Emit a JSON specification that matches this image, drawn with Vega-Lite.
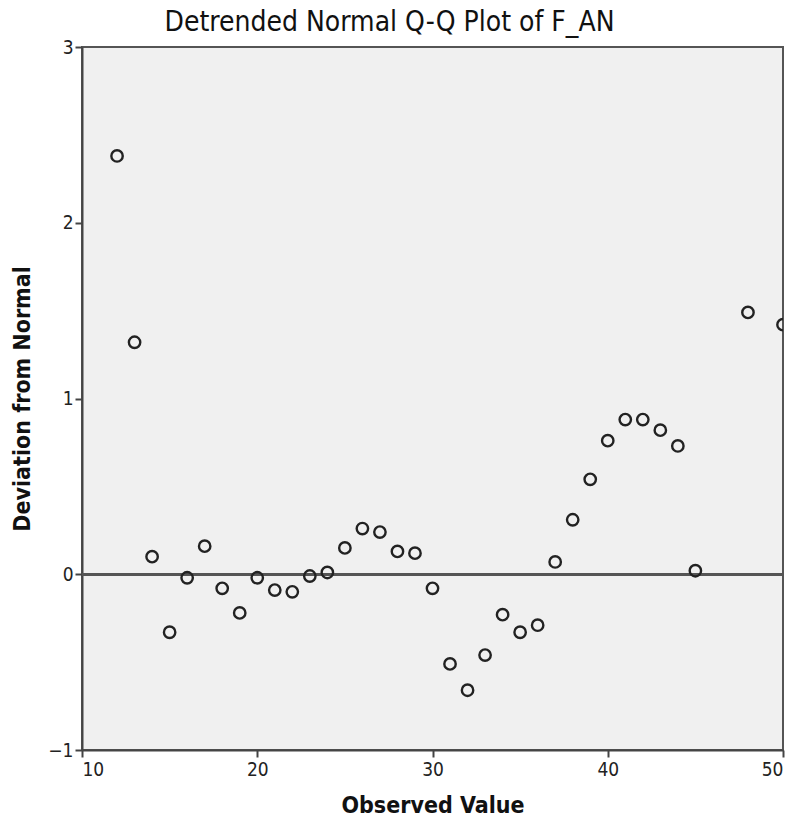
{
  "$schema": "https://vega.github.io/schema/vega-lite/v6.json",
  "autosize": "none",
  "width": 701,
  "height": 703,
  "padding": {"left": 82, "top": 47, "right": 12, "bottom": 77},
  "background": "white",
  "title": {
    "text": "Detrended Normal Q-Q Plot of F_AN",
    "font": "DejaVu Sans Condensed, Liberation Sans",
    "fontSize": 28,
    "fontWeight": "normal",
    "color": "#111111",
    "anchor": "middle",
    "frame": "group",
    "dx": -43,
    "offset": 1
  },
  "config": {
    "view": {"fill": "#f0f0f0", "stroke": "#555555", "strokeWidth": 2},
    "axis": {
      "grid": false,
      "domainColor": "#444444",
      "domainWidth": 2,
      "tickColor": "#444444",
      "tickWidth": 2,
      "tickSize": 7,
      "labelFont": "DejaVu Sans Condensed, Liberation Sans",
      "labelFontSize": 19,
      "labelColor": "#222222",
      "titleFont": "DejaVu Sans Condensed, Liberation Sans",
      "titleFontSize": 23,
      "titleFontWeight": "bold",
      "titleColor": "#111111"
    }
  },
  "data": {
    "values": [
      {"obs": 12, "dev": 2.38},
      {"obs": 13, "dev": 1.32},
      {"obs": 14, "dev": 0.10},
      {"obs": 15, "dev": -0.33},
      {"obs": 16, "dev": -0.02},
      {"obs": 17, "dev": 0.16},
      {"obs": 18, "dev": -0.08},
      {"obs": 19, "dev": -0.22},
      {"obs": 20, "dev": -0.02},
      {"obs": 21, "dev": -0.09},
      {"obs": 22, "dev": -0.10},
      {"obs": 23, "dev": -0.01},
      {"obs": 24, "dev": 0.01},
      {"obs": 25, "dev": 0.15},
      {"obs": 26, "dev": 0.26},
      {"obs": 27, "dev": 0.24},
      {"obs": 28, "dev": 0.13},
      {"obs": 29, "dev": 0.12},
      {"obs": 30, "dev": -0.08},
      {"obs": 31, "dev": -0.51},
      {"obs": 32, "dev": -0.66},
      {"obs": 33, "dev": -0.46},
      {"obs": 34, "dev": -0.23},
      {"obs": 35, "dev": -0.33},
      {"obs": 36, "dev": -0.29},
      {"obs": 37, "dev": 0.07},
      {"obs": 38, "dev": 0.31},
      {"obs": 39, "dev": 0.54},
      {"obs": 40, "dev": 0.76},
      {"obs": 41, "dev": 0.88},
      {"obs": 42, "dev": 0.88},
      {"obs": 43, "dev": 0.82},
      {"obs": 44, "dev": 0.73},
      {"obs": 45, "dev": 0.02},
      {"obs": 48, "dev": 1.49},
      {"obs": 50, "dev": 1.42}
    ]
  },
  "encoding": {
    "x": {
      "field": "obs",
      "type": "quantitative",
      "scale": {"domain": [10, 50], "nice": false, "zero": false},
      "axis": {"values": [10, 20, 30, 40, 50], "title": "Observed Value", "titlePadding": 15, "labelPadding": 3}
    },
    "y": {
      "field": "dev",
      "type": "quantitative",
      "scale": {"domain": [-1, 3], "nice": false},
      "axis": {"values": [-1, 0, 1, 2, 3], "title": "Deviation from Normal", "titlePadding": 13, "labelPadding": 2}
    }
  },
  "layer": [
    {
      "mark": {"type": "rule", "color": "#555555", "strokeWidth": 2},
      "encoding": {"y": {"datum": 0}, "x": null}
    },
    {
      "mark": {"type": "point", "shape": "circle", "filled": false, "size": 130, "stroke": "#222222", "strokeWidth": 2.4, "opacity": 1, "clip": true}
    }
  ]
}
